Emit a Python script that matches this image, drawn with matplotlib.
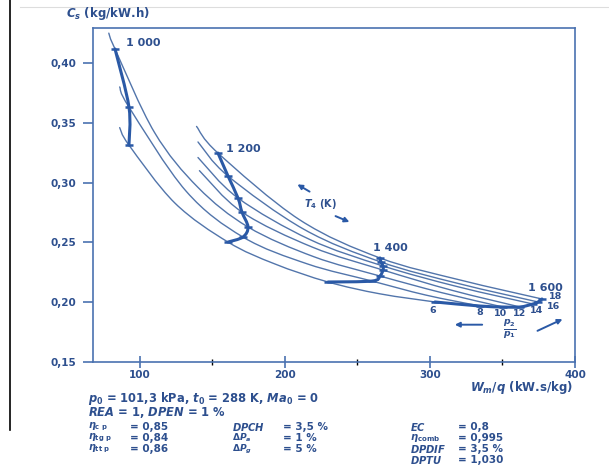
import matplotlib
matplotlib.use('Agg')
import matplotlib.pyplot as plt
from matplotlib.path import Path
from matplotlib.patches import PathPatch
from matplotlib.lines import Line2D
import numpy as np

# ---------------- data ----------------
pressure_ratios = [6, 8, 10, 12, 14, 16, 18]

# constant turbine-inlet-temperature lines (thick), one point per pressure ratio
wq_1000 = [92.4, 92.4, 82.8]
cs_1000 = [0.3314, 0.3632, 0.4117]
wq_1200 = [160.7, 171.0, 174.5, 170.3, 167.6, 160.7, 153.8]
cs_1200 = [0.2503, 0.2545, 0.2629, 0.2754, 0.2871, 0.3055, 0.3247]
wq_1400 = [229.7, 260.0, 265.5, 267.6, 267.6, 266.2, 265.5]
cs_1400 = [0.2169, 0.2177, 0.2219, 0.2269, 0.2303, 0.2336, 0.2370]
wq_1600 = [303.4, 334.5, 350.3, 362.1, 371.0, 374.5, 377.2]
cs_1600 = [0.2002, 0.1968, 0.1960, 0.1960, 0.1985, 0.2002, 0.2027]

# constant pressure-ratio lines (thin)
pr6_wq = [86.0, 92.4, 124.0, 160.7, 193.0, 229.7, 265.5, 303.4]
pr6_cs = [0.346, 0.3314, 0.283, 0.2503, 0.232, 0.2169, 0.207, 0.2002]
pr8_wq = [86.0, 92.4, 131.7, 171.0, 215.5, 260.0, 297.0, 334.5]
pr8_cs = [0.380, 0.3632, 0.293, 0.2545, 0.232, 0.2177, 0.206, 0.1968]
pr10_wq = [78.5, 82.8, 110.0, 140.0, 174.5, 220.0, 265.5, 308.0, 350.3]
pr10_cs = [0.425, 0.4117, 0.342, 0.296, 0.2629, 0.238, 0.2219, 0.208, 0.1960]
pr12_wq = [141.0, 170.3, 219.0, 267.6, 315.0, 362.1]
pr12_cs = [0.310, 0.2754, 0.246, 0.2269, 0.210, 0.1960]
pr14_wq = [140.0, 167.6, 217.0, 267.6, 319.0, 371.0]
pr14_cs = [0.321, 0.2871, 0.2525, 0.2303, 0.213, 0.1985]
pr16_wq = [140.0, 160.7, 213.0, 266.2, 320.0, 374.5]
pr16_cs = [0.334, 0.3055, 0.261, 0.2336, 0.2155, 0.2002]
pr18_wq = [139.0, 153.8, 210.0, 265.5, 321.0, 377.2]
pr18_cs = [0.347, 0.3247, 0.269, 0.2370, 0.2185, 0.2027]

t4_labels = ['1 000', '1 200', '1 400', '1 600']
t4_label_wq = [102.1, 171.0, 272.4, 379.5]
t4_label_cs = [0.4167, 0.3281, 0.2453, 0.2120]

pr_labels = ['6', '8', '10', '12', '14', '16', '18']
pr_label_wq = [302.1, 334.5, 348.3, 362.1, 373.8, 385.5, 386.5]
pr_label_cs = [0.1930, 0.1915, 0.1905, 0.1905, 0.1930, 0.1966, 0.2046]

y_ticks = [0.15, 0.20, 0.25, 0.30, 0.35, 0.40]
y_ticklabels = ['0,15', '0,20', '0,25', '0,30', '0,35', '0,40']
x_ticks = [100, 200, 300, 400]
x_minor = [150, 250, 350]

# ---------------- style ----------------
plt.rcParams['font.family'] = ['DejaVu Sans']
plt.rcParams['mathtext.fontset'] = 'custom'
plt.rcParams['mathtext.rm'] = 'DejaVu Sans:bold'
plt.rcParams['mathtext.it'] = 'DejaVu Sans:italic:bold'
plt.rcParams['mathtext.bf'] = 'DejaVu Sans:bold'

TXT = '#2d4f8e'
THIN = '#5275ab'
THICK = '#2a59a6'
SPINE = '#4a72b0'

W, H = 609, 465
fig = plt.figure(figsize=(W / 100, H / 100), dpi=100)
fig.patch.set_facecolor('white')
ax = fig.add_axes([93 / W, 1 - 362 / H, (575 - 93) / W, (362 - 28) / H])
ax.set_xlim(67.6, 400)
ax.set_ylim(0.15, 0.4293)


def smooth(ax, xs, ys, **kw):
    P = np.column_stack([xs, ys]).astype(float)
    n = len(P)
    verts = [P[0]]
    codes = [Path.MOVETO]
    for i in range(n - 1):
        p0 = P[i - 1] if i > 0 else P[i]
        p1 = P[i]
        p2 = P[i + 1]
        p3 = P[i + 2] if i + 2 < n else P[i + 1]
        verts += [p1 + (p2 - p0) / 6.0, p2 - (p3 - p1) / 6.0, p2]
        codes += [Path.CURVE4] * 3
    ax.add_patch(PathPatch(Path(verts, codes), fill=False, capstyle='round', **kw))


for xs, ys in [(pr6_wq, pr6_cs), (pr8_wq, pr8_cs), (pr10_wq, pr10_cs),
               (pr12_wq, pr12_cs), (pr14_wq, pr14_cs), (pr16_wq, pr16_cs),
               (pr18_wq, pr18_cs)]:
    smooth(ax, xs, ys, ec=THIN, lw=1.0)

for xs, ys in [(wq_1000, cs_1000), (wq_1200, cs_1200),
               (wq_1400, cs_1400), (wq_1600, cs_1600)]:
    smooth(ax, xs, ys, ec=THICK, lw=2.2)
    ax.plot(xs, ys, ls='none', marker='_', ms=6, mew=1.8, color=THICK)

for lab, x, y in zip(t4_labels, t4_label_wq, t4_label_cs):
    ax.text(x, y, lab, color=TXT, fontsize=8, fontweight='bold', ha='center', va='center')
for lab, x, y in zip(pr_labels, pr_label_wq, pr_label_cs):
    ax.text(x, y, lab, color=TXT, fontsize=6.8, fontweight='bold', ha='center', va='center')

# T4 arrows
ax.annotate('', xy=(206.9, 0.2997), xytext=(218.6, 0.2913),
            arrowprops=dict(arrowstyle='-|>', color=THICK, lw=1.4, mutation_scale=7))
ax.annotate('', xy=(246.2, 0.2662), xytext=(233.1, 0.2729),
            arrowprops=dict(arrowstyle='-|>', color=THICK, lw=1.4, mutation_scale=7))
ax.text(224.1, 0.2821, r'$T_4$ (K)', color=TXT, fontsize=7, ha='center', va='center', fontweight='bold')

# pressure-ratio arrows
ax.annotate('', xy=(315.2, 0.1812), xytext=(337.9, 0.1812),
            arrowprops=dict(arrowstyle='-|>', color=THICK, lw=1.4, mutation_scale=7))
ax.annotate('', xy=(393.1, 0.1868), xytext=(372.4, 0.1751),
            arrowprops=dict(arrowstyle='-|>', color=THICK, lw=1.4, mutation_scale=7))
ax.text(355.2, 0.1772, r'$\frac{p_2}{p_1}$', color=TXT, fontsize=9.5, ha='center', va='center')

# axes styling
for s in ax.spines.values():
    s.set_color(SPINE)
    s.set_linewidth(1.2)
ax.set_yticks(y_ticks)
ax.set_yticklabels(y_ticklabels)
ax.set_xticks(x_ticks)
ax.set_xticks(x_minor, minor=True)
ax.tick_params(axis='both', colors=SPINE, labelcolor=TXT, labelsize=7.5, width=1.2)
ax.tick_params(axis='y', direction='out', length=7, pad=5)
ax.tick_params(axis='x', which='major', direction='inout', length=9, pad=1.5)
ax.tick_params(axis='x', which='minor', direction='inout', length=5, width=1.0)
for lab in ax.get_xticklabels() + ax.get_yticklabels():
    lab.set_fontweight('bold')

fig.text(66 / W, 1 - 14 / H, r'$C_s$ (kg/kW.h)', color=TXT, fontsize=8.5,
         fontweight='bold', ha='left', va='center')
fig.text(573 / W, 1 - 387 / H, r'$W_m/q$ (kW.s/kg)', color=TXT, fontsize=8.5,
         fontweight='bold', ha='right', va='center')

# parameters block
def ft(px, py, s, size=8.0):
    fig.text(px / W, 1 - py / H, s, color=TXT, fontsize=size, fontweight='bold',
             ha='left', va='center')

ft(88, 398, r'$p_0$ = 101,3 kPa, $t_0$ = 288 K, $Ma_0$ = 0', 8.3)
ft(88, 412.5, r'$REA$ = 1, $DPEN$ = 1 %', 8.3)
rows = [426.5, 437.6, 448.8, 459.7]
col1 = [r'$\eta_{\mathrm{c\ p}}$', r'$\eta_{\mathrm{tg\ p}}$', r'$\eta_{\mathrm{tt\ p}}$']
val1 = ['= 0,85', '= 0,84', '= 0,86']
col2 = [r'$DPCH$', r'$\Delta P_a$', r'$\Delta P_g$']
val2 = ['= 3,5 %', '= 1 %', '= 5 %']
col2_size = [7.2, 6.6, 6.6]
col3 = [r'$EC$', r'$\eta_{\mathrm{comb}}$', r'$DPDIF$', r'$DPTU$']
val3 = ['= 0,8', '= 0,995', '= 3,5 %', '= 1,030']
for i in range(3):
    ft(88, rows[i], col1[i], 7.0)
    ft(130, rows[i], val1[i], 7.5)
    ft(232, rows[i] + (0.8 if i == 2 else 0), col2[i], col2_size[i])
    ft(283, rows[i], val2[i], 7.5)
for i in range(4):
    ft(410, rows[i], col3[i], 7.2)
    ft(458, rows[i], val3[i], 7.5)

# page border artefacts
fig.add_artist(Line2D([10 / W, 10 / W], [1 - 0 / H, 1 - 430 / H], color='black', lw=1.2))
fig.add_artist(Line2D([20 / W, 1.0], [1 - 7 / H, 1 - 7 / H], color='#dddddd', lw=0.8))

fig.savefig('out.png', dpi=100)
